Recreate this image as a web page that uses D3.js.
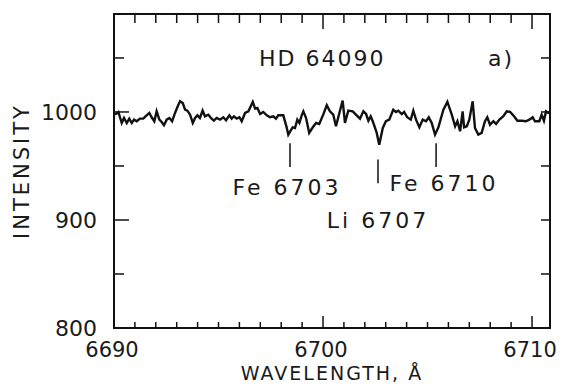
<!DOCTYPE html>
<html>
<head>
<meta charset="utf-8">
<script src="https://cdn.jsdelivr.net/npm/d3@7"></script>
<style>
  html, body { margin: 0; padding: 0; background: #fff; }
  svg { display: block; }
  text { font-family: "DejaVu Sans", sans-serif; fill: #1a1a1a; }
</style>
</head>
<body>
<svg id="chart" width="564" height="386"></svg>
<script>
// spectrum of HD 64090 around the Li 6707 line
const wave = [
  6690.05, 6690.21, 6690.37, 6690.48, 6690.61, 6690.73, 6690.85, 6690.96, 6691.09, 6691.24,
  6691.40, 6691.56, 6691.69, 6691.80, 6691.93, 6692.04, 6692.17, 6692.28, 6692.39, 6692.52,
  6692.65, 6692.78, 6692.92, 6693.05, 6693.16, 6693.29, 6693.40, 6693.51, 6693.64, 6693.77,
  6693.88, 6693.99, 6694.11, 6694.24, 6694.35, 6694.51, 6694.67, 6694.78, 6694.91, 6695.07,
  6695.23, 6695.36, 6695.52, 6695.63, 6695.74, 6695.87, 6696.00, 6696.11, 6696.27, 6696.43,
  6696.64, 6696.75, 6696.86, 6696.99, 6697.14, 6697.31, 6697.46, 6697.62, 6697.75, 6697.86,
  6698.10, 6698.26, 6698.34, 6698.45, 6698.55, 6698.66, 6698.77, 6698.87, 6698.98, 6699.06,
  6699.19, 6699.34, 6699.51, 6699.67, 6699.82, 6700.01, 6700.18, 6700.33, 6700.49, 6700.62,
  6700.81, 6700.94, 6701.05, 6701.21, 6701.42, 6701.61, 6701.77, 6701.93, 6702.06, 6702.17,
  6702.28, 6702.38, 6702.57, 6702.69, 6702.86, 6703.01, 6703.17, 6703.36, 6703.49, 6703.60,
  6703.77, 6703.88, 6704.03, 6704.20, 6704.32, 6704.45, 6704.61, 6704.77, 6704.93, 6705.06,
  6705.20, 6705.36, 6705.52, 6705.76, 6705.95, 6706.16, 6706.32, 6706.43, 6706.56, 6706.68,
  6706.75, 6706.88, 6707.00, 6707.16, 6707.27, 6707.43, 6707.59, 6707.75, 6707.86, 6707.99,
  6708.15, 6708.28, 6708.44, 6708.63, 6708.79, 6708.95, 6709.14, 6709.30, 6709.51, 6709.71,
  6709.87, 6710.03, 6710.14, 6710.35, 6710.46, 6710.57, 6710.67, 6710.78, 6710.86
];
const intensity = [
  997.5, 1000.0, 989.8, 994.4, 989.8, 993.8, 989.8, 992.9, 991.4, 993.8,
  993.8, 996.9, 999.1, 995.1, 991.4, 1000.6, 992.9, 990.7, 987.7, 992.9,
  994.4, 991.4, 999.1, 1005.3, 1009.9, 1008.3, 1002.1, 1001.2, 997.5, 989.8,
  994.4, 996.9, 994.4, 1001.2, 996.0, 997.5, 993.8, 991.9, 994.4, 992.9,
  995.1, 992.3, 996.9, 993.8, 996.0, 993.8, 995.1, 991.4, 999.1, 1000.6,
  1009.3, 1003.1, 1003.7, 998.1, 1000.0, 996.9, 995.1, 996.0, 993.8, 996.9,
  996.9, 985.8, 979.0, 982.7, 985.8, 985.2, 992.9, 989.8, 996.9, 1000.6,
  994.4, 980.6, 985.8, 989.8, 988.9, 997.5, 1006.2, 1000.6, 997.5, 986.8,
  1001.2, 1010.5, 989.8, 1001.2, 1000.6, 996.9, 993.8, 1000.6, 998.1, 991.9,
  996.0, 991.4, 980.6, 969.7, 985.2, 991.4, 992.9, 1002.1, 1000.0, 1001.2,
  998.1, 1000.0, 995.1, 992.9, 1001.2, 992.9, 985.8, 992.9, 991.4, 995.1,
  989.8, 979.0, 985.8, 1002.1, 1009.3, 997.5, 986.8, 991.4, 982.1, 1000.6,
  985.8, 986.8, 992.9, 1009.9, 985.2, 979.0, 980.6, 991.4, 995.1, 988.2,
  991.4, 988.9, 992.9, 996.0, 1000.6, 1000.0, 996.0, 991.9, 991.9, 991.4,
  992.9, 995.1, 991.4, 991.4, 997.5, 991.9, 1000.6, 999.1, 1000.0
];

// identified lines: label, observed wavelength, marker top / bottom (intensity)
const lineNames = ["Fe 6703", "Li 6707", "Fe 6710"];
const lineWave = [6698.42, 6702.63, 6705.41];
const lineTop = [971, 956, 971];
const lineBottom = [949, 934, 949];

const xDomain = [6690, 6710.86];
const yDomain = [800, 1090.7];
const xLabelTicks = [6690, 6700, 6710];
const yLabelTicks = [800, 900, 1000];
const yTicks = [850, 900, 950, 1000, 1050];
const title = "HD 64090";
const panel = "a)";

const W = 564, H = 386;
const M = { top: 14, right: 14, bottom: 58, left: 114 };
const IW = W - M.left - M.right;
const IH = H - M.top - M.bottom;

const svg = d3.select("#chart");
const g = svg.append("g").attr("transform", `translate(${M.left},${M.top})`);

const x = d3.scaleLinear().domain(xDomain).range([0, IW]);
const y = d3.scaleLinear().domain(yDomain).range([IH, 0]);

// minor ticks every 1 A, inward on bottom and top
const xMinor = d3.range(6691, 6711, 1);
const isMajor = (d) => d % 10 === 0;

g.append("g")
  .selectAll("line")
  .data(xMinor)
  .join("line")
  .attr("x1", (d) => x(d)).attr("x2", (d) => x(d))
  .attr("y1", IH).attr("y2", (d) => IH - (isMajor(d) ? 12 : 6))
  .attr("stroke", "#111").attr("stroke-width", 1.5);

g.append("g")
  .selectAll("line")
  .data(xMinor)
  .join("line")
  .attr("x1", (d) => x(d)).attr("x2", (d) => x(d))
  .attr("y1", 0).attr("y2", (d) => (isMajor(d) ? 15 : 9))
  .attr("stroke", "#111").attr("stroke-width", 1.5);

// y ticks, inward left and right
g.append("g")
  .selectAll("line")
  .data(yTicks)
  .join("line")
  .attr("x1", 0).attr("x2", (d) => (d % 100 === 0 ? 15 : 10))
  .attr("y1", (d) => y(d)).attr("y2", (d) => y(d))
  .attr("stroke", "#111").attr("stroke-width", 1.5);

g.append("g")
  .selectAll("line")
  .data(yTicks)
  .join("line")
  .attr("x1", IW).attr("x2", IW - 9)
  .attr("y1", (d) => y(d)).attr("y2", (d) => y(d))
  .attr("stroke", "#111").attr("stroke-width", 1.5);

// frame
g.append("rect")
  .attr("x", 0).attr("y", 0).attr("width", IW).attr("height", IH)
  .attr("fill", "none").attr("stroke", "#111").attr("stroke-width", 2);

// tick labels
g.append("g")
  .selectAll("text")
  .data(yLabelTicks)
  .join("text")
  .attr("x", -17)
  .attr("y", (d) => y(d) + 8)
  .attr("text-anchor", "end")
  .attr("font-size", 22)
  .text((d) => d);

g.append("g")
  .selectAll("text")
  .data(xLabelTicks)
  .join("text")
  .attr("x", (d) => x(d) - 2)
  .attr("y", IH + 29)
  .attr("text-anchor", "middle")
  .attr("font-size", 21)
  .text((d) => d);

// axis titles
g.append("text")
  .attr("x", 218).attr("y", IH + 52)
  .attr("text-anchor", "middle")
  .attr("font-size", 19)
  .attr("letter-spacing", 2)
  .text("WAVELENGTH, Å");

svg.append("text")
  .attr("transform", "translate(29,171) rotate(-90)")
  .attr("text-anchor", "middle")
  .attr("font-size", 21)
  .attr("letter-spacing", 3)
  .text("INTENSITY");

// title and panel tag
g.append("text")
  .attr("x", 145).attr("y", 52)
  .attr("font-size", 22)
  .attr("letter-spacing", 2)
  .text(title);

g.append("text")
  .attr("x", 374).attr("y", 52)
  .attr("font-size", 22)
  .attr("letter-spacing", 2)
  .text(panel);

// spectrum
const pts = wave.map((w, i) => [w, intensity[i]]);
g.append("path")
  .attr("d", d3.line().x((d) => x(d[0])).y((d) => y(d[1]))(pts))
  .attr("fill", "none")
  .attr("stroke", "#111")
  .attr("stroke-width", 2.4)
  .attr("stroke-linejoin", "miter");

// line markers and labels
const labelDx = [-3, 0, 8];
const labelDy = [28, 45, 24];
lineNames.forEach((name, i) => {
  const xm = x(lineWave[i]);
  g.append("line")
    .attr("x1", xm).attr("x2", xm)
    .attr("y1", y(lineTop[i])).attr("y2", y(lineBottom[i]))
    .attr("stroke", "#111").attr("stroke-width", 1.5);
  g.append("text")
    .attr("x", xm + labelDx[i])
    .attr("y", y(lineBottom[i]) + labelDy[i])
    .attr("text-anchor", "middle")
    .attr("font-size", 22)
    .attr("letter-spacing", 3)
    .text(name);
});
</script>
</body>
</html>
